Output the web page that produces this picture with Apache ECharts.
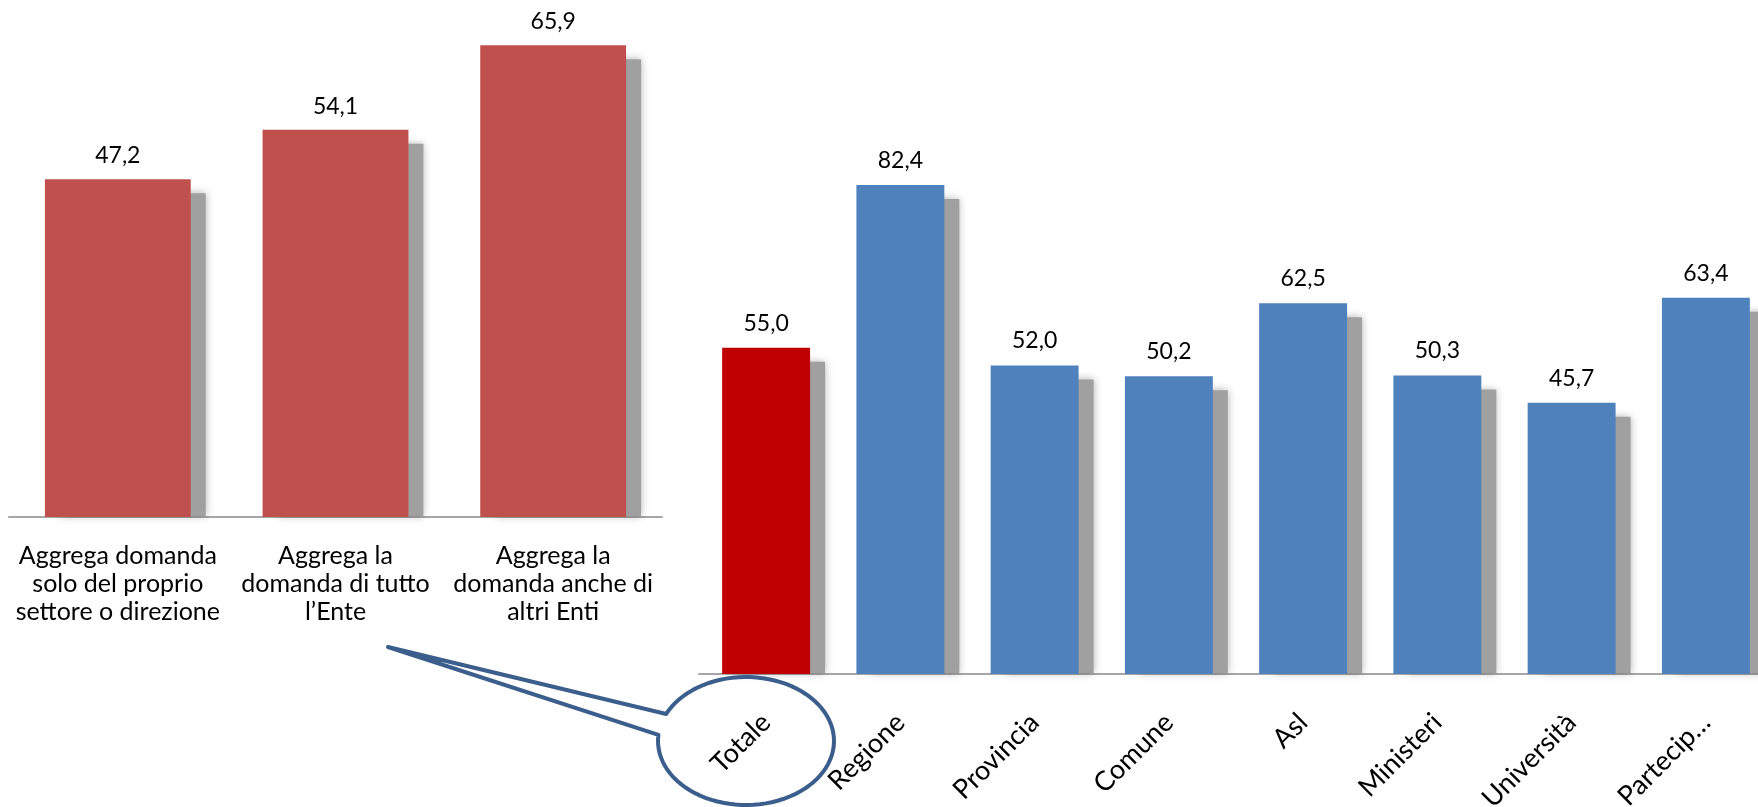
<!DOCTYPE html>
<html>
<head>
<meta charset="utf-8">
<script src="https://cdn.jsdelivr.net/npm/echarts@6/dist/echarts.min.js"></script>
<style>
  html, body { margin: 0; padding: 0; background: #fff; }
  #chart { width: 1758px; height: 807px; }
</style>
</head>
<body>
<div id="chart"></div>
<script>
// dati: tipo di aggregazione della domanda
var leftCategories = [
    'Aggrega domanda\nsolo del proprio\nsettore o direzione',
    'Aggrega la\ndomanda di tutto\nl\u2019Ente',
    'Aggrega la\ndomanda anche di\naltri Enti'
];
var leftValues = [47.2, 54.1, 65.9];

// dati: per tipologia di ente
var rightCategories = ['Totale', 'Regione', 'Provincia', 'Comune', 'Asl', 'Ministeri', 'Università', 'Partecip…'];
var rightValues = [55.0, 82.4, 52.0, 50.2, 62.5, 50.3, 45.7, 63.4];

var FONT = 'Lato';

var fmt = function (p) {
    return p.value.toFixed(1).replace('.', ',');
};

// ombra grigia dietro le barre, tagliata alla linea base
var shadowSeries = function (axisIdx, values, ratio) {
    return {
        type: 'custom',
        xAxisIndex: axisIdx,
        yAxisIndex: axisIdx,
        z: 1,
        silent: true,
        data: values.map(function (v, i) { return [i, v]; }),
        encode: {x: 0, y: 1},
        renderItem: function (params, api) {
            var top = api.coord([api.value(0), api.value(1)]);
            var base = api.coord([api.value(0), 0]);
            var bw = api.size([1, 0])[0] * ratio;
            return {
                type: 'rect',
                shape: {x: top[0] - bw / 2 + 15, y: top[1] + 14, width: bw, height: base[1] - top[1] - 15},
                style: {fill: '#a0a0a0', shadowBlur: 8, shadowColor: 'rgba(0,0,0,0.3)'}
            };
        }
    };
};

// fumetto intorno a "Totale"
var bubble = function () {
    var cx = 746, cy = 741, rx = 88, ry = 64;
    var pts = [];
    for (var a = 205; a <= 545.5; a += 4) {
        var r = a * Math.PI / 180;
        pts.push([cx + rx * Math.cos(r), cy + ry * Math.sin(r)]);
    }
    var r2 = 545.5 * Math.PI / 180;
    pts.push([cx + rx * Math.cos(r2), cy + ry * Math.sin(r2)]);
    pts.push([388, 647]);
    var r1 = 205 * Math.PI / 180;
    pts.push([cx + rx * Math.cos(r1), cy + ry * Math.sin(r1)]);
    return pts;
};

var chart = echarts.init(document.getElementById('chart'));

var option = {
    animation: false,
    textStyle: {fontFamily: FONT},
    grid: [
        {left: 9, top: 16, width: 653, height: 501, outerBoundsMode: 'none'},
        {left: 699, top: 140, width: 1074, height: 534, outerBoundsMode: 'none'}
    ],
    xAxis: [
        {
            type: 'category', gridIndex: 0, data: leftCategories,
            axisLine: {lineStyle: {color: '#a6a6a6', width: 2}},
            axisTick: {show: false},
            axisLabel: {color: '#000', fontSize: 25, lineHeight: 28, margin: 25, fontFamily: FONT, interval: 0}
        },
        {
            type: 'category', gridIndex: 1, data: rightCategories,
            axisLine: {lineStyle: {color: '#a6a6a6', width: 2}},
            axisTick: {show: false},
            axisLabel: {color: '#000', fontSize: 27, rotate: 45, margin: 44, fontFamily: FONT, interval: 0}
        }
    ],
    yAxis: [
        {type: 'value', gridIndex: 0, min: 0, max: 70, show: false, splitLine: {show: false}},
        {type: 'value', gridIndex: 1, min: 0, max: 90, show: false, splitLine: {show: false}}
    ],
    series: [
        shadowSeries(0, leftValues, 0.67),
        {
            type: 'bar', xAxisIndex: 0, yAxisIndex: 0, z: 2,
            data: leftValues,
            barWidth: '67%',
            itemStyle: {color: '#C0504D'},
            label: {show: true, position: 'top', distance: 12, color: '#000', fontSize: 23, fontFamily: FONT, formatter: fmt}
        },
        shadowSeries(1, rightValues, 0.655),
        {
            type: 'bar', xAxisIndex: 1, yAxisIndex: 1, z: 2,
            data: rightValues.map(function (v, i) {
                return {value: v, itemStyle: {color: i === 0 ? '#C00000' : '#4F81BD'}};
            }),
            barWidth: '65.5%',
            label: {show: true, position: 'top', distance: 13, color: '#000', fontSize: 23, fontFamily: FONT, formatter: fmt}
        }
    ],
    graphic: [
        {
            type: 'polygon',
            z: 10,
            silent: true,
            shape: {points: bubble()},
            style: {fill: 'none', stroke: '#3B5E8C', lineWidth: 4, lineJoin: 'round'}
        }
    ]
};

chart.setOption(option);
</script>
</body>
</html>
